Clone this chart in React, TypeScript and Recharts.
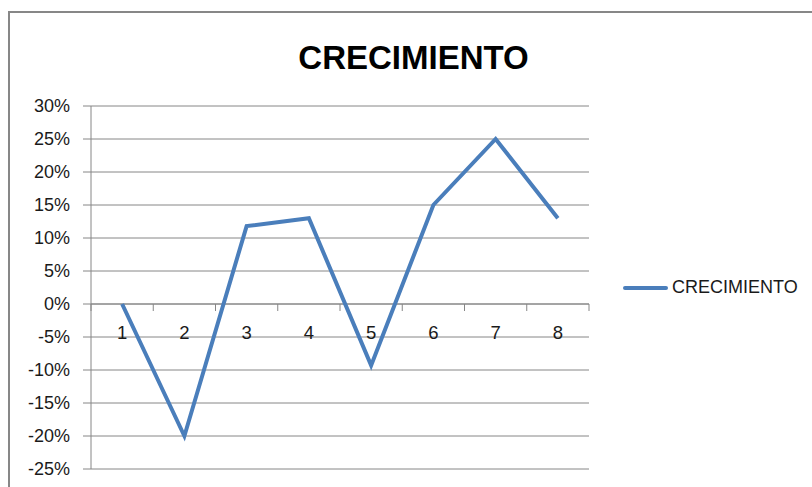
import React from 'react';
import { LineChart, Line, XAxis, YAxis, CartesianGrid, Legend, ReferenceLine } from 'recharts';

const categories = ['1', '2', '3', '4', '5', '6', '7', '8'];
const crecimiento = [0, -0.2, 0.118, 0.13, -0.093, 0.15, 0.25, 0.13];
const yTicks = [-0.25, -0.2, -0.15, -0.1, -0.05, 0, 0.05, 0.1, 0.15, 0.2, 0.25, 0.3];
const seriesName = 'CRECIMIENTO';
const title = 'CRECIMIENTO';

const data = categories.map((c, i) => ({ cat: c, v: crecimiento[i] }));

const W = 812;
const H = 487;
const X_AXIS_H = 1;
const MARGIN = { top: 106, right: 223, bottom: 17, left: 0 };
const Y_AXIS_W = 91;
const Y_MIN = -0.25;
const Y_MAX = 0.3;
const PLOT_H = H - MARGIN.top - MARGIN.bottom - X_AXIS_H;
const PLOT_W = W - MARGIN.left - MARGIN.right - Y_AXIS_W;
const BAND = PLOT_W / categories.length;
const FONT = '"Liberation Sans", Arial, sans-serif';
const GRID = '#868686';
const BLUE = '#4A7EBB';

const fmtPct = (v: number) => `${Math.round(v * 100)}%`;

const renderXTick = (props: any) => {
  const { x, y, payload, index } = props;
  // axis sits at the bottom of the plot; shift up to the value 0
  const zeroY = y - ((0 - Y_MIN) / (Y_MAX - Y_MIN)) * PLOT_H;
  const isLast = index === categories.length - 1;
  return (
    <g key={`xt-${index}`}>
      <line x1={x - BAND / 2} x2={x - BAND / 2} y1={zeroY} y2={zeroY + 7} stroke={GRID} strokeWidth={1} />
      {isLast && (
        <line x1={x + BAND / 2} x2={x + BAND / 2} y1={zeroY} y2={zeroY + 7} stroke={GRID} strokeWidth={1} />
      )}
      <text x={x} y={zeroY + 35} textAnchor="middle" fontFamily={FONT} fontSize={18.5} fill="#1a1a1a">
        {payload.value}
      </text>
    </g>
  );
};

const LegendContent = () => (
  <div style={{ display: 'flex', alignItems: 'center', fontFamily: FONT, fontSize: 18, color: '#1a1a1a', whiteSpace: 'nowrap' }}>
    <span style={{ display: 'inline-block', width: 45, height: 4, background: BLUE, borderRadius: 2, marginRight: 4 }} />
    <span>{seriesName}</span>
  </div>
);

export default function App() {
  return (
    <div style={{ position: 'absolute', left: 0, top: 0, width: W, height: H, overflow: 'hidden', background: '#fff' }}>
      <div
        style={{
          position: 'absolute',
          left: 8,
          top: 11,
          width: 1000,
          height: 700,
          border: '2px solid #878787',
        }}
      />
      <div
        style={{
          position: 'absolute',
          left: 0,
          top: 41,
          width: 827,
          textAlign: 'center',
          fontFamily: FONT,
          fontWeight: 'bold',
          fontSize: 33,
          lineHeight: '33px',
          color: '#000',
        }}
      >
        {title}
      </div>
      <div style={{ position: 'absolute', left: 0, top: 0 }}>
        <LineChart width={W} height={H} data={data} margin={MARGIN}>
          <CartesianGrid vertical={false} stroke={GRID} strokeWidth={1} />
          <XAxis
            dataKey="cat"
            height={X_AXIS_H}
            axisLine={false}
            tickLine={false}
            tickSize={0}
            tickMargin={0}
            interval={0}
            padding={{ left: BAND / 2, right: BAND / 2 }}
            tick={renderXTick}
          />
          <YAxis
            type="number"
            domain={[Y_MIN, Y_MAX]}
            ticks={yTicks}
            interval={0}
            width={Y_AXIS_W}
            tickFormatter={fmtPct}
            tickSize={8}
            tickMargin={13}
            axisLine={{ stroke: GRID }}
            tickLine={{ stroke: GRID }}
            tick={{ fontFamily: FONT, fontSize: 18, fill: '#1a1a1a' }}
            allowDataOverflow
          />
          <ReferenceLine y={0} stroke={GRID} strokeWidth={1} />
          <Legend
            layout="horizontal"
            align="center"
            verticalAlign="middle"
            content={<LegendContent />}
            wrapperStyle={{ left: 623, top: 277, width: 'auto' }}
          />
          <Line
            type="linear"
            dataKey="v"
            name={seriesName}
            stroke={BLUE}
            strokeWidth={4}
            dot={false}
            isAnimationActive={false}
          />
        </LineChart>
      </div>
    </div>
  );
}
